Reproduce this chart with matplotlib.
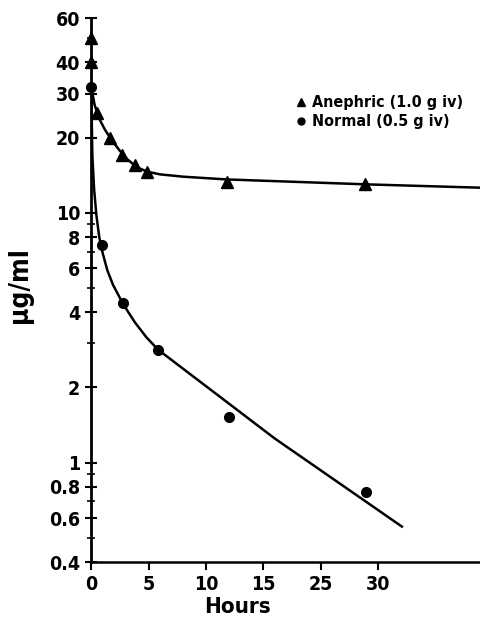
import matplotlib
matplotlib.use("Agg")
import matplotlib.pyplot as plt
from matplotlib.lines import Line2D

plt.rcParams['font.family'] = ['DejaVu Sans']
plt.rcParams['font.stretch'] = 'condensed'
plt.rcParams['font.weight'] = 'bold'

# points (x in axis units, y in ug/ml)
anephric_x = [0, 0, 0.5, 1.65, 2.7, 3.8, 4.9, 11.8, 23.9]
anephric_y = [50, 40, 25.1, 20, 17, 15.6, 14.6, 13.3, 13.0]
normal_x = [0, 0.9, 2.8, 5.8, 12.0, 24.0]
normal_y = [32, 7.4, 4.36, 2.83, 1.53, 0.76]

# fitted curves as traced
anephric_fit_x = [0, 0.3, 0.7, 1.2, 1.8, 2.5, 3.2, 4.0, 4.9, 6.0, 8.0, 11.8, 23.9, 34]
anephric_fit_y = [32, 27, 23.8, 21.5, 19.5, 17.7, 16.3, 15.2, 14.6, 14.25, 13.95, 13.6, 13.0, 12.6]
normal_fit_x = [0, 0.1, 0.25, 0.45, 0.7, 1.0, 1.4, 1.9, 2.8, 3.8, 4.8, 5.84, 16, 27.09]
normal_fit_y = [32, 17, 12.5, 9.8, 8.0, 6.9, 5.9, 5.15, 4.3, 3.65, 3.18, 2.83, 1.25, 0.555]

xtick_pos = [0, 5, 10, 15, 20, 25]
xtick_lab = ['0', '5', '10', '15', '25', '30']
ytick_major = [0.4, 0.6, 0.8, 1, 2, 4, 6, 8, 10, 20, 30, 40, 60]
ytick_major_lab = ['0.4', '0.6', '0.8', '1', '2', '4', '6', '8', '10', '20', '30', '40', '60']
ytick_minor = [0.5, 0.7, 0.9, 3, 5, 7, 9, 50]

fig = plt.figure(figsize=(4.8, 6.33), dpi=100)
ax = fig.add_axes([0.19, 0.112, 0.81, 0.859])

ax.plot(anephric_fit_x, anephric_fit_y, color='black', lw=1.8)
ax.plot(normal_fit_x, normal_fit_y, color='black', lw=1.8)
ax.plot(anephric_x, anephric_y, '^', color='black', ms=8, clip_on=False)
ax.plot(normal_x, normal_y, 'o', color='black', ms=7, clip_on=False)

ax.set_yscale('log')
ax.set_ylim(0.4, 60)
ax.set_xlim(0, 33.9)
ax.set_yticks(ytick_major)
ax.set_yticklabels(ytick_major_lab)
ax.set_yticks(ytick_minor, minor=True)
ax.yaxis.set_minor_formatter(plt.NullFormatter())
ax.set_xticks(xtick_pos)
ax.set_xticklabels(xtick_lab)

for s in ['top', 'right']:
    ax.spines[s].set_visible(False)
ax.spines['left'].set_linewidth(2)
ax.spines['bottom'].set_linewidth(1.8)
ax.tick_params(axis='y', which='major', direction='inout', length=8, width=1.5, labelsize=14, pad=4)
ax.tick_params(axis='y', which='minor', direction='inout', length=6, width=1.2)
ax.tick_params(axis='x', direction='out', length=6, width=1.5, labelsize=14, pad=3)

ax.set_xlabel('Hours', fontsize=16, fontweight='bold')
ax.xaxis.set_label_coords(0.375, -0.065)
ax.set_ylabel('μg/ml', fontsize=19, fontweight='bold')
ax.yaxis.set_label_coords(-0.15, 0.51)

handles = [Line2D([], [], marker='^', ls='none', color='black', ms=6),
           Line2D([], [], marker='o', ls='none', color='black', ms=5)]
ax.legend(handles, ['Anephric (1.0 g iv)', 'Normal (0.5 g iv)'],
          loc='upper left', bbox_to_anchor=(0.49, 0.885), frameon=False,
          fontsize=11.5, handlelength=0.6, handletextpad=0.4, labelspacing=0.25)

fig.savefig('out.png', dpi=100)
